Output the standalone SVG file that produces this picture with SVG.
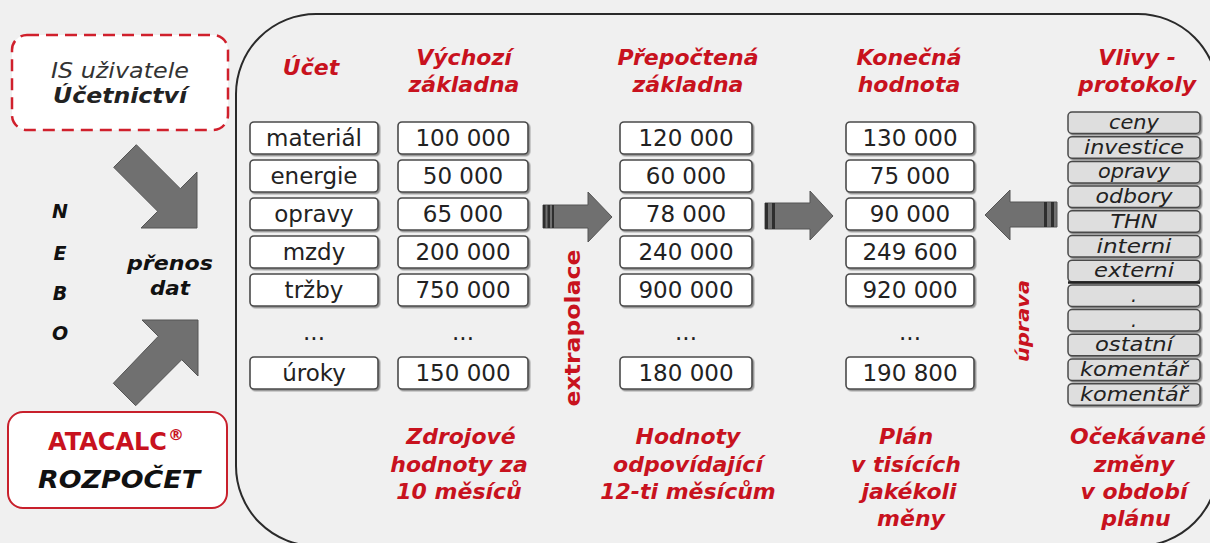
<svg xmlns="http://www.w3.org/2000/svg" width="1210" height="543" viewBox="0 0 1210 543">
<defs>
<filter id="sh" x="-10%" y="-20%" width="130%" height="150%">
<feDropShadow dx="1.5" dy="1.5" stdDeviation="0.7" flood-color="#777" flood-opacity="0.8"/>
</filter>
<style>
.hdr{font-family:"DejaVu Sans",Verdana,sans-serif;font-size:22px;font-weight:bold;font-style:italic;fill:#c8121e;text-anchor:middle}
.bt{font-family:"DejaVu Sans",Verdana,sans-serif;font-size:23px;fill:#222;text-anchor:middle}
.vl{font-family:"DejaVu Sans",Verdana,sans-serif;font-size:19px;font-style:italic;fill:#222;text-anchor:middle}
.box{fill:#fff;stroke:#4a4a4a;stroke-width:1.6;filter:url(#sh)}
.vbox{fill:#dedede;stroke:#4a4a4a;stroke-width:1.5;filter:url(#sh)}
.arr{fill:#707070;stroke:#555;stroke-width:1}
.bar{fill:#2e2e2e}
.lt{font-family:"DejaVu Sans",Verdana,sans-serif;font-size:19px;font-weight:bold;font-style:italic;fill:#111;text-anchor:middle}
.rv{font-family:"DejaVu Sans",Verdana,sans-serif;font-size:22px;font-weight:bold;fill:#c8121e;text-anchor:middle}
</style>
</defs>
<rect x="0" y="0" width="1210" height="543" fill="#f0f0f0"/>

<g id="frame">
<rect x="236" y="14" width="982" height="532" rx="80" ry="80" fill="none" stroke="#2a2a2a" stroke-width="2"/>
</g>

<g id="is-ucetnictvi">
<rect x="12" y="35" width="216" height="95" rx="15" fill="#fff" stroke="#d0202c" stroke-width="2.5" stroke-dasharray="12,7"/>
<text x="120" y="78" font-family="DejaVu Sans, sans-serif" font-size="21" font-style="italic" fill="#333" text-anchor="middle" textLength="138" lengthAdjust="spacingAndGlyphs">IS uživatele</text>
<text x="120" y="103" font-family="DejaVu Sans, sans-serif" font-size="21" font-weight="bold" font-style="italic" fill="#222" text-anchor="middle" textLength="134" lengthAdjust="spacingAndGlyphs">Účetnictví</text>
</g>

<g id="atacalc">
<rect x="8" y="412" width="219" height="96" rx="15" fill="#fff" stroke="#c8202c" stroke-width="2"/>
<text x="48" y="450" font-family="DejaVu Sans, sans-serif" font-size="24" font-weight="bold" fill="#c8121e" textLength="119" lengthAdjust="spacingAndGlyphs">ATACALC</text>
<text x="168" y="440" font-family="DejaVu Sans, sans-serif" font-size="16" font-weight="bold" fill="#c8121e">®</text>
<text x="119" y="488" font-family="DejaVu Sans, sans-serif" font-size="24" font-weight="bold" font-style="italic" fill="#111" text-anchor="middle" textLength="162" lengthAdjust="spacingAndGlyphs">ROZPOČET</text>
</g>

<g id="nebo">
<text class="lt" x="60" y="218">N</text>
<text class="lt" x="60" y="260">E</text>
<text class="lt" x="60" y="300">B</text>
<text class="lt" x="60" y="340">O</text>
</g>

<g id="prenos-dat">
<text class="lt" x="170" y="270" textLength="86" lengthAdjust="spacingAndGlyphs">přenos</text>
<text class="lt" x="170" y="295" textLength="40" lengthAdjust="spacingAndGlyphs">dat</text>
</g>

<g id="col-ucet">
<text class="hdr" x="311" y="75">Účet</text>
<rect class="box" x="250" y="122" width="128" height="32" rx="4"/>
<rect class="box" x="250" y="160" width="128" height="32" rx="4"/>
<rect class="box" x="250" y="198" width="128" height="32" rx="4"/>
<rect class="box" x="250" y="236" width="128" height="32" rx="4"/>
<rect class="box" x="250" y="274" width="128" height="32" rx="4"/>
<rect class="box" x="250" y="357" width="128" height="32" rx="4"/>
<text class="bt" x="314" y="146">materiál</text>
<text class="bt" x="314" y="184">energie</text>
<text class="bt" x="314" y="222">opravy</text>
<text class="bt" x="314" y="260">mzdy</text>
<text class="bt" x="314" y="298">tržby</text>
<text class="bt" x="314" y="340">...</text>
<text class="bt" x="314" y="381">úroky</text>
</g>

<g id="col-vychozi">
<text class="hdr" x="464" y="65">Výchozí</text>
<text class="hdr" x="464" y="92">základna</text>
<rect class="box" x="398" y="122" width="130" height="32" rx="4"/>
<rect class="box" x="398" y="160" width="130" height="32" rx="4"/>
<rect class="box" x="398" y="198" width="130" height="32" rx="4"/>
<rect class="box" x="398" y="236" width="130" height="32" rx="4"/>
<rect class="box" x="398" y="274" width="130" height="32" rx="4"/>
<rect class="box" x="398" y="357" width="130" height="32" rx="4"/>
<text class="bt" x="463" y="146">100 000</text>
<text class="bt" x="463" y="184">50 000</text>
<text class="bt" x="463" y="222">65 000</text>
<text class="bt" x="463" y="260">200 000</text>
<text class="bt" x="463" y="298">750 000</text>
<text class="bt" x="463" y="340">...</text>
<text class="bt" x="463" y="381">150 000</text>
</g>

<g id="col-prepoctena">
<text class="hdr" x="688" y="65">Přepočtená</text>
<text class="hdr" x="688" y="92">základna</text>
<rect class="box" x="620" y="122" width="132" height="32" rx="4"/>
<rect class="box" x="620" y="160" width="132" height="32" rx="4"/>
<rect class="box" x="620" y="198" width="132" height="32" rx="4"/>
<rect class="box" x="620" y="236" width="132" height="32" rx="4"/>
<rect class="box" x="620" y="274" width="132" height="32" rx="4"/>
<rect class="box" x="620" y="357" width="132" height="32" rx="4"/>
<text class="bt" x="686" y="146">120 000</text>
<text class="bt" x="686" y="184">60 000</text>
<text class="bt" x="686" y="222">78 000</text>
<text class="bt" x="686" y="260">240 000</text>
<text class="bt" x="686" y="298">900 000</text>
<text class="bt" x="686" y="340">...</text>
<text class="bt" x="686" y="381">180 000</text>
</g>

<g id="col-konecna">
<text class="hdr" x="909" y="65">Konečná</text>
<text class="hdr" x="909" y="92">hodnota</text>
<rect class="box" x="846" y="122" width="128" height="32" rx="4"/>
<rect class="box" x="846" y="160" width="128" height="32" rx="4"/>
<rect class="box" x="846" y="198" width="128" height="32" rx="4"/>
<rect class="box" x="846" y="236" width="128" height="32" rx="4"/>
<rect class="box" x="846" y="274" width="128" height="32" rx="4"/>
<rect class="box" x="846" y="357" width="128" height="32" rx="4"/>
<text class="bt" x="910" y="146">130 000</text>
<text class="bt" x="910" y="184">75 000</text>
<text class="bt" x="910" y="222">90 000</text>
<text class="bt" x="910" y="260">249 600</text>
<text class="bt" x="910" y="298">920 000</text>
<text class="bt" x="910" y="340">...</text>
<text class="bt" x="910" y="381">190 800</text>
</g>

<g id="col-vlivy">
<text class="hdr" x="1137" y="65">Vlivy -</text>
<text class="hdr" x="1137" y="92">protokoly</text>
<rect class="vbox" x="1068" y="112" width="132" height="21.5" rx="4"/>
<rect class="vbox" x="1068" y="136.7" width="132" height="21.5" rx="4"/>
<rect class="vbox" x="1068" y="161.4" width="132" height="21.5" rx="4"/>
<rect class="vbox" x="1068" y="186.1" width="132" height="21.5" rx="4"/>
<rect class="vbox" x="1068" y="210.8" width="132" height="21.5" rx="4"/>
<rect class="vbox" x="1068" y="235.5" width="132" height="21.5" rx="4"/>
<rect class="vbox" x="1068" y="260.2" width="132" height="21.5" rx="4"/>
<rect class="vbox" x="1068" y="284.9" width="132" height="21.5" rx="4"/>
<rect class="vbox" x="1068" y="309.6" width="132" height="21.5" rx="4"/>
<rect class="vbox" x="1068" y="334.3" width="132" height="21.5" rx="4"/>
<rect class="vbox" x="1068" y="359" width="132" height="21.5" rx="4"/>
<rect class="vbox" x="1068" y="383.7" width="132" height="21.5" rx="4"/>
<line x1="1068" y1="282.5" x2="1200" y2="282.5" stroke="#222" stroke-width="2.5"/>
<text class="vl" x="1134" y="129" textLength="50" lengthAdjust="spacingAndGlyphs">ceny</text>
<text class="vl" x="1134" y="153.7" textLength="100" lengthAdjust="spacingAndGlyphs">investice</text>
<text class="vl" x="1134" y="178.4" textLength="72" lengthAdjust="spacingAndGlyphs">opravy</text>
<text class="vl" x="1134" y="203.1" textLength="77" lengthAdjust="spacingAndGlyphs">odbory</text>
<text class="vl" x="1134" y="227.8" textLength="47" lengthAdjust="spacingAndGlyphs">THN</text>
<text class="vl" x="1134" y="252.5" textLength="75" lengthAdjust="spacingAndGlyphs">interni</text>
<text class="vl" x="1134" y="277.2" textLength="80" lengthAdjust="spacingAndGlyphs">externi</text>
<text class="vl" x="1134" y="301.9">.</text>
<text class="vl" x="1134" y="326.6">.</text>
<text class="vl" x="1134" y="351.3" textLength="78" lengthAdjust="spacingAndGlyphs">ostatní</text>
<text class="vl" x="1134" y="376" textLength="108" lengthAdjust="spacingAndGlyphs">komentář</text>
<text class="vl" x="1134" y="400.7" textLength="108" lengthAdjust="spacingAndGlyphs">komentář</text>
</g>

<g id="captions">
<text class="hdr" x="461" y="444">Zdrojové</text>
<text class="hdr" x="459" y="472">hodnoty za</text>
<text class="hdr" x="459" y="499">10 měsíců</text>
<text class="hdr" x="688" y="444">Hodnoty</text>
<text class="hdr" x="688" y="472">odpovídající</text>
<text class="hdr" x="688" y="499">12-ti měsícům</text>
<text class="hdr" x="906" y="444">Plán</text>
<text class="hdr" x="906" y="472">v tisících</text>
<text class="hdr" x="909" y="499">jakékoli</text>
<text class="hdr" x="911" y="526">měny</text>
<text class="hdr" x="1138" y="444">Očekávané</text>
<text class="hdr" x="1134" y="472">změny</text>
<text class="hdr" x="1134" y="499">v období</text>
<text class="hdr" x="1136" y="526">plánu</text>
</g>

<g id="connectors">
<polygon class="arr" points="113.7,167.3 136.3,144.7 180.3,188.7 197,172 197,228 141,228 157.7,211.3"/>
<polygon class="arr" points="158.3,336.3 142,320 198,320 198,376 181.7,359.7 135.7,405.7 113.3,383.3"/>

<g id="arrow-extrapolace">
<polygon class="arr" points="543,205 588,205 588,192 612,217 588,242 588,228 543,228"/>
<rect class="bar" x="543" y="205" width="2.5" height="23"/>
<rect class="bar" x="547.5" y="205" width="2.5" height="23"/>
<rect class="bar" x="552" y="205" width="2" height="23"/>
<text class="rv" transform="translate(580,328) rotate(-90)" textLength="157" lengthAdjust="spacingAndGlyphs">extrapolace</text>
</g>

<g id="arrow-final">
<polygon class="arr" points="765,203 810,203 810,191 833,216 810,240 810,229 765,229"/>
<rect class="bar" x="765" y="203" width="3" height="26"/>
<rect class="bar" x="772" y="203" width="3" height="26"/>
</g>

<g id="arrow-uprava">
<polygon class="arr" points="1057,202 1010,202 1010,190 985,215 1010,240 1010,227 1057,227"/>
<rect class="bar" x="1044" y="202" width="3" height="25"/>
<rect class="bar" x="1051" y="202" width="3" height="25"/>
<text transform="translate(1029,321) rotate(-90)" font-family="DejaVu Sans, sans-serif" font-size="17" font-weight="bold" font-style="italic" fill="#c8121e" text-anchor="middle" textLength="82" lengthAdjust="spacingAndGlyphs">úprava</text>
</g>
</g>
</svg>
